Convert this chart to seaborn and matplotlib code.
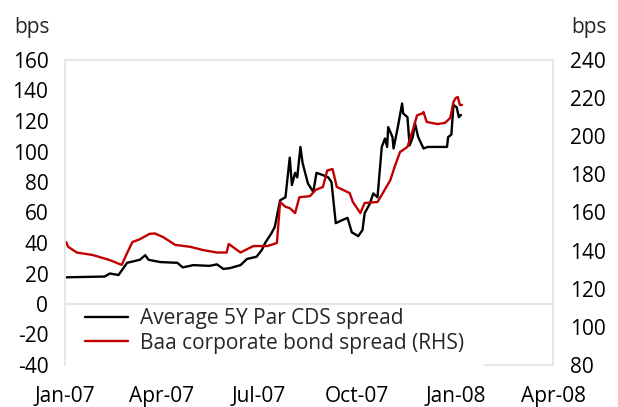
import matplotlib
matplotlib.use("Agg")
import matplotlib.pyplot as plt
import matplotlib.dates as mdates
import matplotlib.transforms as mtransforms
from matplotlib.lines import Line2D
import seaborn as sns
import pandas as pd
import numpy as np

# ---- data ----
base_date = "2007-01-01"
cds_days = [1, 37, 42, 50, 58, 70, 75, 78, 89, 105, 110, 120, 135, 142, 148, 154, 164, 170,
            179, 184, 187, 193, 196, 201, 206, 210, 212, 215, 217, 220, 222, 227, 232, 235,
            241, 246, 249, 253, 259, 264, 268, 274, 278, 280, 285, 288, 292, 296, 299, 301,
            302, 306, 307, 311, 315, 316, 320, 322, 325, 327, 330, 335, 339, 357, 358, 361,
            363, 366, 368, 370]
cds_vals = [17.5, 18, 20, 19, 27, 29, 32, 29, 27.5, 27, 24, 25.5, 25, 26, 23, 23.5, 25.5, 29.5,
            31, 35.5, 40, 46.5, 50.5, 68, 70, 96, 78, 86, 83, 103, 92.5, 79, 73.5, 86,
            84.5, 83, 80, 53, 55, 56.5, 47, 44.5, 48.5, 59.5, 66, 72.5, 70, 103, 108.5, 103,
            116, 109.5, 102, 116, 131.5, 125, 122.5, 104, 109.5, 118.5, 109.5, 102, 103, 103, 109.5, 111,
            130.5, 129, 122.5, 124]

baa_days = [1, 3, 11, 26, 42, 53, 58, 63, 70, 79, 84, 92, 103, 117, 129, 142, 151, 153, 164,
            176, 189, 198, 201, 206, 210, 215, 219, 229, 234, 241, 245, 250, 254, 266, 269,
            276, 280, 292, 297, 304, 308, 313, 320, 325, 329, 334, 335, 338, 348, 355, 360,
            363, 365, 367, 369, 371]
baa_vals = [144.5, 142, 139, 137.7, 135, 132.5, 138.7, 144.5, 146, 148.8, 149, 147, 143, 142,
            140.3, 139, 139, 143.5, 139, 142.4, 142.4, 144, 165.5, 163, 162.3, 159.7, 168,
            168.6, 171.8, 173.4, 182, 182.8, 173.4, 170.2, 165.5, 159.7, 165, 165.5, 170.2,
            177, 183.9, 191.7, 194.4, 203.3, 211, 212, 212.7, 207.5, 206.4, 207, 209.6, 218,
            220, 220.6, 216.4, 216.4]

left_ticks = [-40, -20, 0, 20, 40, 60, 80, 100, 120, 140, 160]
right_ticks = [80, 100, 120, 140, 160, 180, 200, 220, 240]
x_ticks = ["2007-01-01", "2007-04-01", "2007-07-01", "2007-10-01", "2008-01-01", "2008-04-01"]
series_labels = ["Average 5Y Par CDS spread", "Baa corporate bond spread (RHS)"]

# ---- build frames ----
t0 = pd.Timestamp(base_date)
cds = pd.DataFrame({"date": t0 + pd.to_timedelta(cds_days, unit="D"), "v": cds_vals})
baa = pd.DataFrame({"date": t0 + pd.to_timedelta(baa_days, unit="D"), "v": baa_vals})

sns.set_theme(style="white")
plt.rcParams["font.family"] = ["Open Sans", "DejaVu Sans"]
plt.rcParams["axes.unicode_minus"] = False
FS = 15

fig = plt.figure(figsize=(6.18, 4.07), dpi=100)
ax1 = fig.add_axes([65 / 618, 1 - 365 / 407, (553 - 65) / 618, (365 - 60) / 407])
ax2 = ax1.twinx()

grey = "#e6e6e6"
sns.lineplot(data=cds, x="date", y="v", ax=ax1, color="black", lw=1.7, legend=False)
sns.lineplot(data=baa, x="date", y="v", ax=ax2, color="#c00000", lw=1.7, legend=False)

ax1.set_ylim(left_ticks[0], left_ticks[-1])
ax2.set_ylim(right_ticks[0], right_ticks[-1])
ax1.set_yticks(left_ticks)
ax2.set_yticks(right_ticks)
xt = pd.to_datetime(x_ticks)
ax1.set_xlim(xt[0], xt[-1])
ax1.set_xticks(xt)
ax1.xaxis.set_major_formatter(mdates.DateFormatter("%b-%y"))

# zero line of the left axis, drawn above the legend background
zero_tr = mtransforms.blended_transform_factory(ax1.transAxes, ax1.transData)
ax2.add_artist(Line2D([0, 1], [0, 0], transform=zero_tr, color=grey, lw=1.5, zorder=6))

for ax in (ax1, ax2):
    ax.set_xlabel("")
    ax.set_ylabel("")
    ax.grid(False)
    for s in ax.spines.values():
        s.set_color(grey)
        s.set_linewidth(1.2)
    ax.tick_params(length=0, labelsize=FS, colors="black")
ax2.spines["left"].set_zorder(6)
ax2.spines["right"].set_zorder(6)
ax1.tick_params(axis="y", pad=12)
ax2.tick_params(axis="y", pad=12)
ax1.tick_params(axis="x", pad=15)

handles = [Line2D([], [], color="black", lw=1.7),
           Line2D([], [], color="#c00000", lw=1.7)]
leg = ax2.legend(handles, series_labels, loc="lower left", bbox_to_anchor=(0.0, -0.028),
                 frameon=True, fontsize=FS, handlelength=2.07, handletextpad=0.58,
                 borderaxespad=0.0, borderpad=0.96, labelspacing=0.15)
leg.get_frame().set_facecolor("white")
leg.get_frame().set_edgecolor("none")
leg.get_frame().set_alpha(1.0)
leg.get_frame().set_boxstyle("square", pad=0)

fig.text(14 / 618, 1 - 28 / 407, "bps", fontsize=FS, va="center", ha="left")
fig.text(607 / 618, 1 - 28 / 407, "bps", fontsize=FS, va="center", ha="right")

fig.savefig("out.png", dpi=100)
